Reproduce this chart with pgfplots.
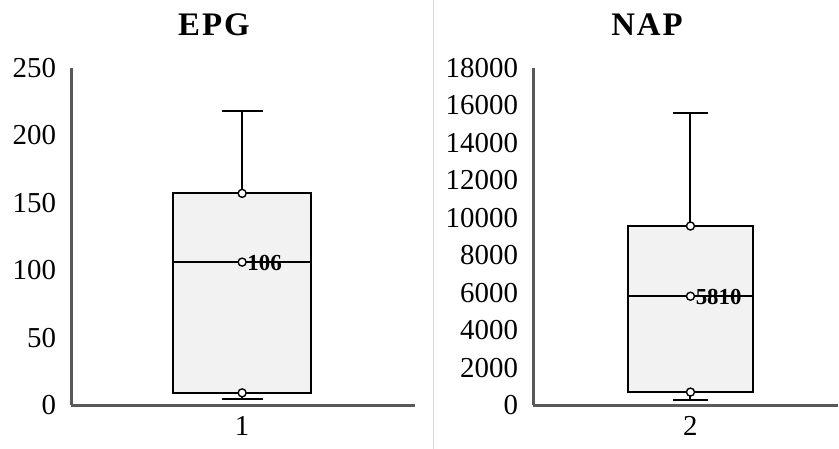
\documentclass[border=0pt]{standalone}
\usepackage{fontspec}
\setmainfont{Liberation Serif}
\newfontfamily\titlefont[LetterSpace=6]{Liberation Serif}
\usepackage{pgfplots}
\pgfplotsset{compat=1.18}
\definecolor{axgray}{HTML}{595959}
\definecolor{boxfill}{HTML}{F2F2F2}
\definecolor{sepgray}{HTML}{D9D9D9}
\pgfplotsset{
  mybox/.style={
    scale only axis, height=168.5bp, ymin=0, xmin=0,
    axis lines=left, axis line style={-, draw=axgray, line width=1.5bp},
    major tick length=0pt, clip=false, scaled y ticks=false,
    tick label style={font=\fontsize{14.5}{17}\selectfont},
    /pgf/number format/1000 sep={}, /pgf/number format/assume math mode=true,
    yticklabel style={xshift=-4bp},
    xticklabel style={yshift=-2bp},
  },
  boxst/.style={draw=black, line width=1bp, fill=boxfill, mark=none},
  wst/.style={draw=black, line width=1bp, mark=none},
  dots/.style={only marks, mark=*, mark size=2bp, mark options={fill=white, draw=black, line width=0.7bp}},
  medlab/.style={dots, point meta=explicit symbolic, nodes near coords,
    nodes near coords style={anchor=west, inner sep=0pt, xshift=2.3bp, yshift=-0.5bp, font=\bfseries\fontsize{11.5}{13}\selectfont}},
}
\begin{document}
\begin{tikzpicture}
\useasboundingbox (0,0) rectangle (419.5bp,224.5bp);
\draw[sepgray, line width=0.5bp] (216.5bp,0) -- (216.5bp,224.5bp);
\node[font=\titlefont\bfseries\fontsize{16.5}{19}\selectfont] at (107bp,212bp) {EPG};
\node[font=\titlefont\bfseries\fontsize{16.5}{19}\selectfont] at (323.5bp,212bp) {NAP};
\begin{axis}[mybox, at={(35.5bp,22bp)}, anchor=south west, width=172bp,
  xmax=2.01, ymax=250, ytick={0,50,...,250}, xtick={1}, xticklabels={1}]
% whiskers
\addplot[wst] coordinates {(1,157) (1,218)};
\addplot[wst] coordinates {(0.88,218) (1.12,218)};
\addplot[wst] coordinates {(1,9) (1,4.5)};
\addplot[wst] coordinates {(0.88,4.5) (1.12,4.5)};
% box
\addplot[boxst] coordinates {(0.595,9) (1.405,9) (1.405,157) (0.595,157)} -- cycle;
\addplot[wst] coordinates {(0.595,106) (1.405,106)};
\addplot[dots] coordinates {(1,9) (1,157)};
\addplot[medlab] coordinates {(1,106) [106]};
\end{axis}
\begin{axis}[mybox, at={(266.5bp,22bp)}, anchor=south west, width=152.5bp,
  xmax=1.937, ymax=18000, ytick={0,2000,...,18000}, xtick={1}, xticklabels={2}]
\addplot[wst] coordinates {(1,9560) (1,15600)};
\addplot[wst] coordinates {(0.89,15600) (1.11,15600)};
\addplot[wst] coordinates {(1,690) (1,270)};
\addplot[wst] coordinates {(0.89,270) (1.11,270)};
\addplot[boxst] coordinates {(0.605,690) (1.395,690) (1.395,9560) (0.605,9560)} -- cycle;
\addplot[wst] coordinates {(0.605,5810) (1.395,5810)};
\addplot[dots] coordinates {(1,690) (1,9560)};
\addplot[medlab] coordinates {(1,5810) [5810]};
\end{axis}
\end{tikzpicture}
\end{document}
